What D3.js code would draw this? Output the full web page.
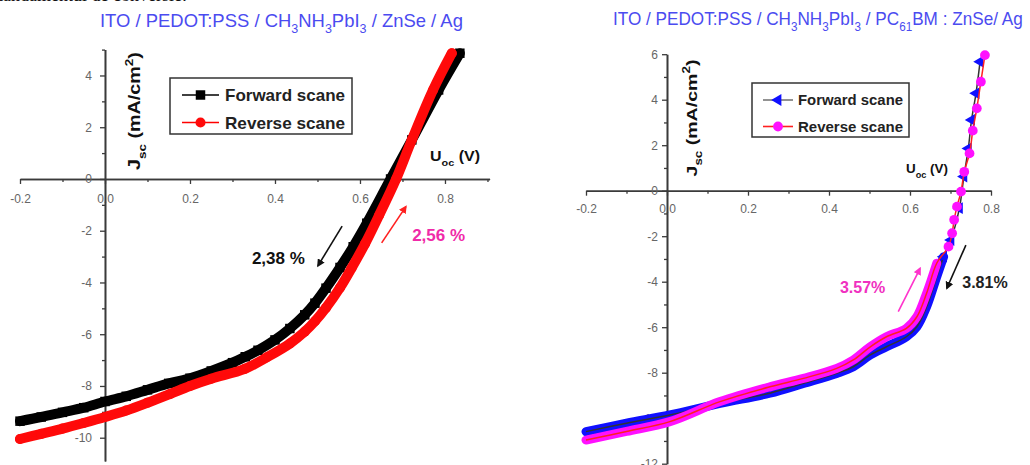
<!DOCTYPE html>
<html>
<head>
<meta charset="utf-8">
<script src="https://cdn.jsdelivr.net/npm/d3@7"></script>
<style>
  body { margin: 0; background: #fff; }
  svg { display: block; font-family: "Liberation Sans", Arial, Helvetica, sans-serif; }
  text { white-space: pre; }
</style>
</head>
<body>
<svg id="chart" width="1030" height="465"></svg>
<script>
// J-V curves (V in volts, J in mA/cm2)
// left panel: ITO / PEDOT:PSS / CH3NH3PbI3 / ZnSe / Ag
const znseForwardV = [-0.2, -0.15, -0.1, -0.05, 0.0, 0.05, 0.1, 0.15, 0.2, 0.25, 0.3, 0.33, 0.36, 0.4, 0.435, 0.47, 0.494, 0.52, 0.553, 0.584, 0.616, 0.672, 0.722, 0.785, 0.835];
const znseForwardJ = [-9.36, -9.2, -9.02, -8.84, -8.6, -8.4, -8.15, -7.9, -7.7, -7.42, -7.1, -6.87, -6.62, -6.22, -5.78, -5.25, -4.8, -4.22, -3.42, -2.62, -1.71, 0, 1.51, 3.44, 4.86];
const znseReverseV = [-0.2, -0.15, -0.1, -0.05, 0.0, 0.05, 0.1, 0.153, 0.2, 0.25, 0.329, 0.38, 0.435, 0.47, 0.494, 0.52, 0.553, 0.58, 0.612, 0.645, 0.685, 0.722, 0.772, 0.816];
const znseReverseJ = [-10.05, -9.85, -9.65, -9.43, -9.2, -8.95, -8.65, -8.31, -8.0, -7.72, -7.34, -6.9, -6.36, -5.9, -5.5, -4.98, -4.2, -3.45, -2.5, -1.4, 0, 1.51, 3.44, 4.86];

// right panel: ITO / PEDOT:PSS / CH3NH3PbI3 / PC61BM : ZnSe / Ag
const pcbmForwardV = [-0.2, -0.1, 0.007, 0.131, 0.254, 0.337, 0.419, 0.46, 0.502, 0.542, 0.591, 0.617, 0.641, 0.666, 0.683, 0.701, 0.722, 0.733, 0.744, 0.752, 0.763, 0.773];
const pcbmForwardJ = [-10.59, -10.22, -9.86, -9.35, -8.9, -8.47, -8.03, -7.74, -7.22, -6.86, -6.42, -5.98, -5.1, -3.78, -2.9, -2.17, -0.77, 0.62, 1.86, 3.11, 4.28, 5.67];
const pcbmReverseV = [-0.2, -0.1, 0.007, 0.131, 0.254, 0.337, 0.419, 0.46, 0.502, 0.542, 0.591, 0.617, 0.641, 0.666, 0.695, 0.704, 0.709, 0.716, 0.726, 0.734, 0.747, 0.755, 0.765, 0.775, 0.785];
const pcbmReverseJ = [-10.96, -10.58, -10.15, -9.27, -8.62, -8.25, -7.81, -7.44, -6.86, -6.42, -6.05, -5.54, -4.51, -3.19, -2.46, -1.87, -1.28, -0.7, -0.04, 0.83, 1.64, 2.64, 3.62, 4.79, 5.96];

// ticks and labels
const voltTicks = [-0.2, 0.0, 0.2, 0.4, 0.6, 0.8];
const znseVoltMinor = [-0.1, 0.1, 0.3, 0.5, 0.7, 0.9];
const pcbmVoltMinor = [-0.1, 0.1, 0.3, 0.5, 0.7];
const znseCurrentTicks = [-10, -8, -6, -4, -2, 0, 2, 4];
const znseCurrentMinor = [-9, -7, -5, -3, -1, 1, 3, 5];
const pcbmCurrentTicks = [-12, -10, -8, -6, -4, -2, 0, 2, 4, 6];
const pcbmCurrentMinor = [-11, -9, -7, -5, -3, -1, 1, 3, 5];
const scanLabels = ["Forward scane", "Reverse scane"];
const znseEfficiency = ["2,38 %", "2,56 %"];
const pcbmEfficiency = ["3.81%", "3.57%"];

const zip = (vs, js) => vs.map((v, i) => ({v: v, j: js[i]}));

// writes text built from pieces (sub/superscripts), squeezed to a given width and centred on (x, y)
function richText(parent, parts, o) {
    const holder = parent.append("g");
    const t = holder.append("text")
        .attr("font-size", o.size)
        .attr("font-weight", o.weight || "normal")
        .attr("fill", o.color);
    let shift = 0;
    parts.forEach(p => {
        const s = p.sub ? o.size * 0.35 : p.sup ? -o.size * 0.45 : 0;
        t.append("tspan")
            .attr("dy", s - shift)
            .attr("font-size", (p.sub || p.sup) ? o.size * 0.68 : o.size)
            .text(p.text);
        shift = s;
    });
    const bb = t.node().getBBox();
    const sx = o.width / bb.width;
    t.attr("transform", `scale(${sx},1) translate(${-bb.x - bb.width / 2},0)`);
    holder.attr("transform", `translate(${o.x},${o.y})` + (o.rotate ? ` rotate(${o.rotate})` : ""));
    return holder;
}

class JVPanel {
    constructor(_config, _series) {
        this.config = _config;
        this.series = _series;
        this.initVis();
        this.renderVis();
    }

    initVis() {
        let vis = this;
        const c = vis.config;
        vis.svg = d3.select(c.parentElement);
        vis.chart = vis.svg.append("g").attr("class", c.name);

        vis.x = d3.scaleLinear().domain(c.xDomain).range(c.xRange);
        vis.y = d3.scaleLinear().domain(c.yDomain).range(c.yRange);

        // axes cross at the origin
        vis.xAxis = d3.axisBottom(vis.x).tickValues(c.xTicks).tickSize(5).tickSizeOuter(0)
            .tickPadding(c.xTickPad).tickFormat(d => d.toFixed(1));
        vis.xMinor = d3.axisBottom(vis.x).tickValues(c.xMinor).tickSize(3).tickSizeOuter(0).tickFormat("");
        vis.yAxis = d3.axisLeft(vis.y).tickValues(c.yTicks).tickSize(5).tickSizeOuter(0)
            .tickPadding(c.yTickPad).tickFormat(d => String(d));
        vis.yMinor = d3.axisLeft(vis.y).tickValues(c.yMinor).tickSize(3).tickSizeOuter(0).tickFormat("");

        vis.line = d3.line().x(d => vis.x(d.v)).y(d => vis.y(d.j)).curve(d3.curveCatmullRom.alpha(0.5));

        // arrow heads for the efficiency annotations
        vis.defs = vis.svg.append("defs");
        c.arrows.forEach((a, i) => {
            vis.defs.append("marker")
                .attr("id", `${c.name}-arrow-${i}`)
                .attr("viewBox", "0 0 10 10")
                .attr("refX", 8).attr("refY", 5)
                .attr("markerWidth", 5).attr("markerHeight", 5)
                .attr("orient", "auto")
                .append("path").attr("d", "M0,0L10,5L0,10z").attr("fill", a.color);
        });
    }

    renderVis() {
        let vis = this;
        const c = vis.config;

        // title
        richText(vis.chart, c.title.parts, c.title);

        // axes
        [[vis.xAxis, "x"], [vis.xMinor, "x"], [vis.yAxis, "y"], [vis.yMinor, "y"]].forEach(([ax, dir]) => {
            const g = vis.chart.append("g")
                .attr("transform", dir === "x" ? `translate(0,${vis.y(0)})` : `translate(${vis.x(0)},0)`)
                .call(ax);
            g.select(".domain").attr("stroke", "#3a3a3a").attr("stroke-width", 1.6);
            g.selectAll(".tick line").attr("stroke", "#3a3a3a").attr("stroke-width", 1.3);
            g.selectAll(".tick text").attr("fill", "#666").attr("font-size", 12)
                .attr("font-family", "'Liberation Sans', Arial, sans-serif");
        });

        // axis titles
        richText(vis.chart, [{text: "J"}, {text: "sc", sub: true}, {text: " (mA/cm"}, {text: "2", sup: true}, {text: ")"}], c.yLabel);
        richText(vis.chart, [{text: "U"}, {text: "oc", sub: true}, {text: " (V)"}], c.xLabel);

        // curves: a thick band where the measured points pile up, a thin line and the markers
        vis.series.forEach(s => {
            const band = s.points.filter(d => d.j <= s.bandTop);
            if (band.length > 1) {
                vis.chart.append("path")
                    .datum(band)
                    .attr("d", vis.line)
                    .attr("fill", "none")
                    .attr("stroke", s.color)
                    .attr("stroke-width", s.bandWidth)
                    .attr("stroke-linejoin", "round")
                    .attr("stroke-linecap", "round");
            }
            vis.chart.append("path")
                .datum(s.points)
                .attr("d", vis.line)
                .attr("fill", "none")
                .attr("stroke", s.lineColor)
                .attr("stroke-width", 1.5);
            vis.chart.append("g").selectAll("path")
                .data(s.points.filter(d => d.j >= s.markerFrom))
                .join("path")
                .attr("d", d3.symbol().type(s.symbol).size(s.symbolSize))
                .attr("transform", d => `translate(${vis.x(d.v)},${vis.y(d.j)}) rotate(${s.symbolRotate || 0})`)
                .attr("fill", s.color);
        });

        // legend
        const lg = c.legend;
        const legend = vis.chart.append("g");
        legend.append("rect")
            .attr("x", lg.x0).attr("y", lg.y0)
            .attr("width", lg.x1 - lg.x0).attr("height", lg.y1 - lg.y0)
            .attr("fill", "#fff").attr("stroke", "#333").attr("stroke-width", 1.5);
        const rows = legend.selectAll(".row")
            .data(vis.series)
            .join("g")
            .attr("class", "row")
            .attr("transform", (d, i) => `translate(0,${lg.rows[i]})`);
        rows.append("line")
            .attr("x1", lg.lineX[0]).attr("x2", lg.lineX[1])
            .attr("stroke", d => d.legendLine).attr("stroke-width", 1.6);
        rows.append("path")
            .attr("d", d => d3.symbol().type(d.symbol).size(d.symbolSize)())
            .attr("transform", d => `translate(${(lg.lineX[0] + lg.lineX[1]) / 2},0) rotate(${d.symbolRotate || 0})`)
            .attr("fill", d => d.color);
        rows.append("text")
            .attr("x", lg.textX).attr("dy", "0.36em")
            .attr("font-size", lg.size).attr("font-weight", "bold").attr("fill", "#222")
            .attr("textLength", lg.textWidth).attr("lengthAdjust", "spacingAndGlyphs")
            .text(d => d.label);

        // efficiency annotations
        c.arrows.forEach((a, i) => {
            vis.chart.append("line")
                .attr("x1", vis.x(a.from[0])).attr("y1", vis.y(a.from[1]))
                .attr("x2", vis.x(a.to[0])).attr("y2", vis.y(a.to[1]))
                .attr("stroke", a.color).attr("stroke-width", 1.6)
                .attr("marker-end", `url(#${c.name}-arrow-${i})`);
            vis.chart.append("text")
                .attr("x", vis.x(a.at[0])).attr("y", vis.y(a.at[1]))
                .attr("text-anchor", "middle")
                .attr("font-size", a.size).attr("font-weight", "bold")
                .attr("fill", a.textColor)
                .text(a.label);
        });
    }
}

const svg = d3.select("#chart");
// bit of the page text above the figure, mostly cut off
svg.append("text").attr("x", 187).attr("y", 0.5).attr("text-anchor", "end")
    .attr("font-family", "'Liberation Serif', serif").attr("font-size", 18).attr("fill", "#111")
    .text("Randamentul de conversie:");

new JVPanel({
    parentElement: "#chart",
    name: "znse",
    xDomain: [-0.2, 0.905], xRange: [20, 489.6],
    yDomain: [-10.9, 5], yRange: [461, 49.6],
    xTicks: voltTicks, xMinor: znseVoltMinor, xTickPad: 11,
    yTicks: znseCurrentTicks, yMinor: znseCurrentMinor, yTickPad: 8,
    title: {
        parts: [{text: "ITO / PEDOT:PSS / CH"}, {text: "3", sub: true}, {text: "NH"}, {text: "3", sub: true},
            {text: "PbI"}, {text: "3", sub: true}, {text: " / ZnSe / Ag"}],
        size: 18, color: "#4b4bf0", x: 281.5, y: 27, width: 363
    },
    yLabel: {size: 16, weight: "bold", color: "#111", x: 140, y: 111, width: 118, rotate: -90},
    xLabel: {size: 14, weight: "bold", color: "#111", x: 455, y: 161, width: 50},
    legend: {x0: 170, y0: 78, x1: 352, y1: 134, rows: [95, 122.5], lineX: [182, 219], textX: 225, textWidth: 120, size: 17},
    arrows: [
        {from: [0.558, -1.82], to: [0.501, -3.36], color: "#111", label: znseEfficiency[0], at: [0.408, -3.29], textColor: "#111", size: 17},
        {from: [0.651, -2.47], to: [0.708, -1.07], color: "#ff2020", label: znseEfficiency[1], at: [0.785, -2.4], textColor: "#f02aa8", size: 17}
    ]
}, [
    {label: scanLabels[0], points: zip(znseForwardV, znseForwardJ), color: "#000", lineColor: "#000", legendLine: "#000",
        bandTop: 10, bandWidth: 10, symbol: d3.symbolSquare, symbolSize: 90, markerFrom: -20},
    {label: scanLabels[1], points: zip(znseReverseV, znseReverseJ), color: "#ff0a0a", lineColor: "#ff0a0a", legendLine: "#ff0000",
        bandTop: 10, bandWidth: 10, symbol: d3.symbolCircle, symbolSize: 80, markerFrom: -20}
]);

new JVPanel({
    parentElement: "#chart",
    name: "pcbm",
    xDomain: [-0.2, 0.8], xRange: [586, 991],
    yDomain: [-12, 6], yRange: [463.7, 54.2],
    xTicks: voltTicks, xMinor: pcbmVoltMinor, xTickPad: 9,
    yTicks: pcbmCurrentTicks, yMinor: pcbmCurrentMinor, yTickPad: 4,
    title: {
        parts: [{text: "ITO / PEDOT:PSS / CH"}, {text: "3", sub: true}, {text: "NH"}, {text: "3", sub: true},
            {text: "PbI"}, {text: "3", sub: true}, {text: " / PC"}, {text: "61", sub: true}, {text: "BM : ZnSe/ Ag"}],
        size: 18, color: "#4b4bf0", x: 818, y: 25, width: 410
    },
    yLabel: {size: 15, weight: "bold", color: "#111", x: 697, y: 118, width: 117, rotate: -90},
    xLabel: {size: 13, weight: "bold", color: "#111", x: 927, y: 173, width: 42},
    legend: {x0: 752, y0: 83, x1: 909, y1: 137, rows: [100, 126.5], lineX: [763, 793], textX: 798, textWidth: 105, size: 15},
    arrows: [
        {from: [0.738, -2.39], to: [0.691, -4.29], color: "#111", label: pcbmEfficiency[0], at: [0.785, -4.28], textColor: "#222", size: 16},
        {from: [0.571, -5.32], to: [0.625, -3.41], color: "#ff33cc", label: pcbmEfficiency[1], at: [0.483, -4.5], textColor: "#f030c0", size: 16}
    ]
}, [
    {label: scanLabels[0], points: zip(pcbmForwardV, pcbmForwardJ), color: "#1010ff", lineColor: "#333", legendLine: "#777",
        bandTop: -2.8, bandWidth: 9, symbol: d3.symbolTriangle, symbolSize: 60, symbolRotate: -90, markerFrom: -3},
    {label: scanLabels[1], points: zip(pcbmReverseV, pcbmReverseJ), color: "#ff10ff", lineColor: "#ff2020", legendLine: "#ff2020",
        bandTop: -2.8, bandWidth: 9, symbol: d3.symbolCircle, symbolSize: 75, markerFrom: -3}
]);
</script>
</body>
</html>
